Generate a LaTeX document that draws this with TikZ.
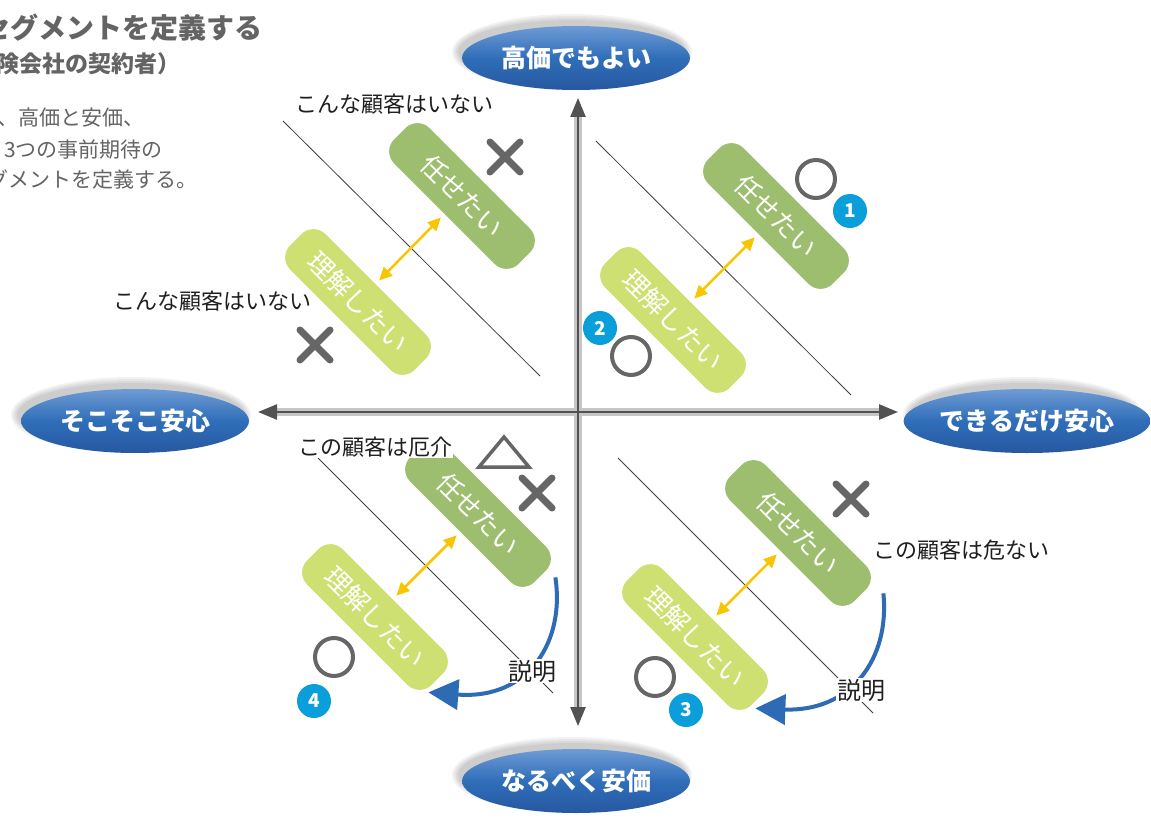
\documentclass[tikz,border=0pt]{standalone}
\usepackage{fontspec}
\setmainfont{Noto Sans CJK JP}
\usetikzlibrary{shapes.geometric,arrows.meta,calc}
\definecolor{titlegray}{RGB}{100,100,100}
\definecolor{pillDark}{RGB}{157,190,110}
\definecolor{pillLight}{RGB}{207,224,115}
\definecolor{ygold}{RGB}{247,198,0}
\definecolor{curveblue}{RGB}{46,107,181}
\definecolor{numblue}{RGB}{10,159,219}
\definecolor{markgray}{RGB}{102,102,102}
\definecolor{ellTop}{RGB}{110,155,212}
\definecolor{ellMid}{RGB}{48,110,185}
\definecolor{ellBot}{RGB}{38,88,160}
\tikzset{
  axisell/.style={ellipse, minimum width=228, minimum height=64, inner sep=0,
    text=white, font=\bfseries\fontsize{25}{25}\selectfont,
    top color=ellTop, bottom color=ellBot, middle color=ellMid},
  pillbase/.style={rounded corners=17, minimum width=176, minimum height=50,
    rotate=-45, inner sep=0, text=white, font=\fontsize{26}{26}\selectfont},
  pilldark/.style={pillbase, fill=pillDark},
  pilllight/.style={pillbase, fill=pillLight},
  yarrow/.style={draw=ygold, line width=2.5pt, shorten <=5pt, shorten >=5pt,
    {Triangle[length=13pt,width=12pt]}-{Triangle[length=13pt,width=12pt]}},
  bluecurve/.style={draw=curveblue, line width=4pt, -{Triangle[length=30pt,width=30pt]}},
  diagline/.style={draw=black!75, line width=0.8pt},
  lbl/.style={text=black!88, font=\fontsize{22}{22}\selectfont, inner sep=1pt},
  okmark/.style={draw=markgray, line width=4pt},
  xmark/.style={draw=markgray, line width=7pt, line cap=round},
  numc/.style={circle, fill=numblue, minimum size=34, inner sep=0, text=white,
    font=\bfseries\fontsize{19}{19}\selectfont},
  axisback/.style={draw=gray!45, line width=8pt},
  axisfront/.style={draw=black!68, line width=2.5pt,
    {Triangle[length=19pt,width=15pt]}-{Triangle[length=19pt,width=15pt]}},
  titletext/.style={anchor=west, inner sep=0, text=titlegray},
}
\begin{document}
\begin{tikzpicture}[x=1pt,y=-1pt]
\useasboundingbox (0,0) rectangle (1151,821);
\fill[white] (0,0) rectangle (1151,821);

% title block (cut at the left edge)
\node[titletext, font=\bfseries\fontsize{28}{28}\selectfont] (t1) at (-18,28) {セグメントを定義する};
\node[titletext, font=\bfseries\fontsize{23}{23}\selectfont] (t2) at (-4,64) {険会社の契約者）};
\node[titletext, font=\fontsize{21}{21}\selectfont] (t3) at (-3,118) {、高価と安価、};
\node[titletext, font=\fontsize{21}{21}\selectfont] (t4) at (4,150) {3つの事前期待の};
\node[titletext, font=\fontsize{21}{21}\selectfont] (t5) at (-13,180) {グメントを定義する。};

% ellipse shadows
\foreach \cx/\cy in {576/58,135/421,1027/421,576/781}{
  \foreach \g in {0,2,4,6}
    \fill[black,opacity=0.05] (\cx-4,\cy-6) ellipse [x radius=114+\g, y radius=32+\g];
}
% axis end nodes
\node[axisell] (up) at (576,58) {高価でもよい};
\node[axisell] (left) at (135,421) {そこそこ安心};
\node[axisell] (right) at (1027,421) {できるだけ安心};
\node[axisell] (down) at (576,781) {なるべく安価};

% axes
\coordinate (vt) at (578,98);
\coordinate (vb) at (578,726);
\coordinate (hl) at (258,412);
\coordinate (hr) at (898,412);
\draw[axisback, shorten <=16pt, shorten >=16pt] (vb) -- (vt);
\draw[axisback, shorten <=16pt, shorten >=16pt] (hl) -- (hr);
\draw[axisfront] (vb) -- (vt);
\draw[axisfront] (hl) -- (hr);

% thin diagonal lines
\coordinate (a1) at (283,121); \coordinate (b1) at (540,376);
\coordinate (a2) at (596,141); \coordinate (b2) at (851,395);
\coordinate (a3) at (318,458); \coordinate (b3) at (553,693);
\coordinate (a4) at (618,458); \coordinate (b4) at (873,713);
\draw[diagline] (a1) -- (b1);
\draw[diagline] (a2) -- (b2);
\draw[diagline] (a3) -- (b3);
\draw[diagline] (a4) -- (b4);

% pills
\node[pilldark] (d1) at (462,196) {任せたい};
\node[pilllight] (l1) at (358,302) {理解したい};
\node[pilldark] (d2) at (776,216) {任せたい};
\node[pilllight] (l2) at (673,320) {理解したい};
\node[pilldark] (d3) at (478,514) {任せたい};
\node[pilllight] (l3) at (375,617) {理解したい};
\node[pilldark] (d4) at (798,533) {任せたい};
\node[pilllight] (l4) at (695,637) {理解したい};

% yellow double arrows
\draw[yarrow] (l1) -- (d1);
\draw[yarrow] (l2) -- (d2);
\draw[yarrow] (l3) -- (d3);
\draw[yarrow] (l4) -- (d4);

% blue curved arrows
\draw[bluecurve] ($(d3.east)+(15,1)$) .. controls (565,640) and (530,700) .. ($(l3.east)+(-9,13)$);
\draw[bluecurve] ($(d4.east)+(23,-2)$) .. controls (890,660) and (850,712) .. ($(l4.east)+(-2,9)$);

% labels
\node[lbl] (q1top) at (394,104) {こんな顧客はいない};
\node[lbl] (q1left) at (212,301) {こんな顧客はいない};
\node[lbl, fill=white] (q3lab) at (375,447) {この顧客は厄介};
\node[lbl] (q4lab) at (961,550) {この顧客は危ない};
\node[lbl, fill=white, font=\fontsize{24}{24}\selectfont] (ex3) at (532,671) {説明};
\node[lbl, fill=white, font=\fontsize{24}{24}\selectfont] (ex4) at (861,690) {説明};

% marks
\draw[xmark, shift={(505,157)}] (-15,-15) -- (15,15) (-15,15) -- (15,-15);
\draw[xmark, shift={(315,345)}] (-15,-15) -- (15,15) (-15,15) -- (15,-15);
\draw[xmark, shift={(537,493)}] (-15,-15) -- (15,15) (-15,15) -- (15,-15);
\draw[xmark, shift={(851,499)}] (-15,-15) -- (15,15) (-15,15) -- (15,-15);
\draw[markgray, line width=3.5pt, line join=miter] (504,437) -- (529,467) -- (479,467) -- cycle;
\draw[okmark] (816,179) circle[radius=19];
\draw[okmark] (631,356) circle[radius=19];
\draw[okmark] (334,657) circle[radius=19];
\draw[okmark] (655,677) circle[radius=19];

% numbers
\node[numc] (n1) at (850,211) {1};
\node[numc] (n2) at (600,328) {2};
\node[numc] (n3) at (686,710) {3};
\node[numc] (n4) at (314,701) {4};
\end{tikzpicture}
\end{document}
